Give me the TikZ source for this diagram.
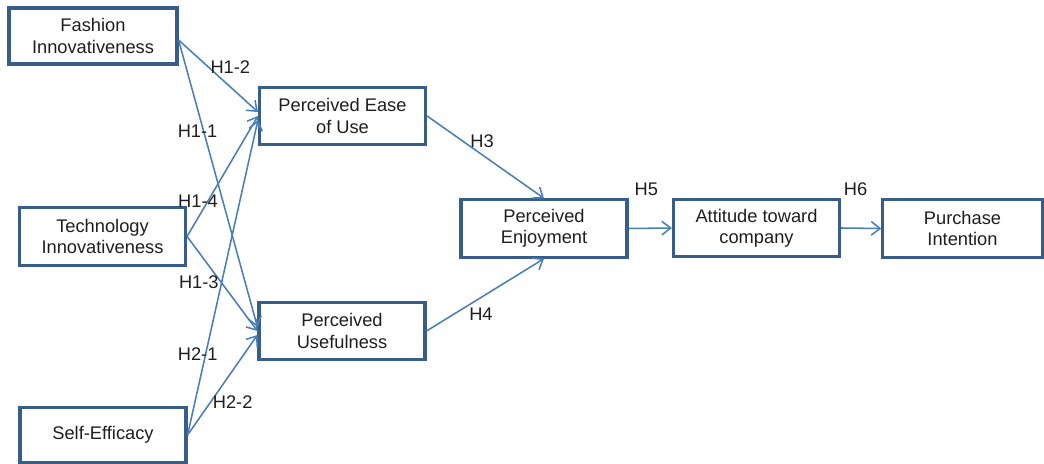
\documentclass[tikz,border=0pt]{standalone}
\usepackage{fontspec}
\setmainfont{Liberation Sans}
\usetikzlibrary{arrows.meta}
\definecolor{boxblue}{RGB}{56,93,138}
\definecolor{lineblue}{RGB}{74,126,187}
\definecolor{txtgray}{RGB}{30,30,30}

\begin{document}
\begin{tikzpicture}[x=0.025cm, y=-0.025cm,
        every node/.style={font=\fontsize{13}{15}\selectfont, text=txtgray},
        box/.style={rectangle, draw=boxblue, line width=2.2pt, align=center, minimum width=4.15cm, minimum height=1.43cm, inner sep=2pt},
        link/.style={draw=lineblue, line width=1.1pt, -{Straight Barb[length=2.2mm, width=3.4mm]}},
        lbl/.style={inner sep=1pt}]
        \useasboundingbox (0,0) rectangle (1044,464);
        % constructs
        \node[box, minimum width=4.2cm, minimum height=1.4cm] (fi) at (93,36) {Fashion\\Innovativeness};
        \node[box] (ti) at (102.5,236.5) {Technology\\Innovativeness};
        \node[box, minimum height=1.38cm] (se) at (103,435) {Self-Efficacy};
        \node[box] (peou) at (342.5,116) {Perceived Ease\\of Use};
        \node[box] (pu) at (342,331) {Perceived\\Usefulness};
        \node[box] (pe) at (544,228.5) {Perceived\\Enjoyment};
        \node[box] (att) at (756.5,228) {Attitude toward\\company};
        \node[box, minimum width=3.98cm] (pi) at (962.5,228.5) {Purchase\\Intention};
        % hypotheses
        \draw[link] ([yshift=-0.1cm]fi.east) -- node[lbl, pos=0.375, anchor=west] {H1-2} ([yshift=0.1cm]peou.west);
        \draw[link] ([yshift=-0.1cm]fi.east) -- node[lbl, pos=0.317, xshift=-0.15cm] {H1-1} ([yshift=0.1cm]pu.west);
        \draw[link] (ti.east) -- node[lbl, pos=0.295, xshift=-0.25cm] {H1-4} (peou.west);
        \draw[link] (ti.east) -- node[lbl, pos=0.48, anchor=east] {H1-3} (pu.west);
        \draw[link] (se.east) -- node[lbl, pos=0.257, xshift=-0.2cm] {H2-1} ([yshift=-0.1cm]peou.west);
        \draw[link] (se.east) -- node[lbl, pos=0.33, anchor=west] {H2-2} ([yshift=-0.1cm]pu.west);
        \draw[link] (peou.east) -- node[lbl, pos=0.31, anchor=west, xshift=0.12cm] {H3} (pe.north);
        \draw[link] (pu.east) -- node[lbl, pos=0.345, anchor=north west] {H4} (pe.south);
        \draw[link] (pe.east) -- node[lbl, above=0.75cm, xshift=-0.1cm] {H5} (att.west);
        \draw[link] (att.east) -- node[lbl, above=0.75cm, xshift=-0.14cm] {H6} (pi.west);
    \end{tikzpicture}
\end{document}
